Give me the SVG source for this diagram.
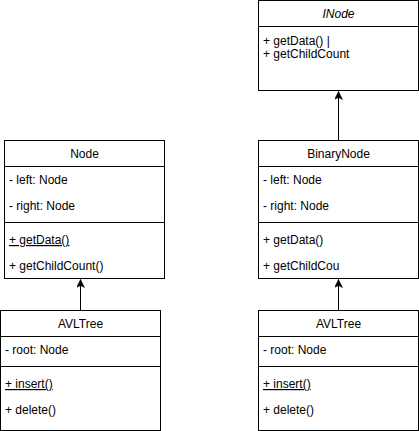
<svg xmlns="http://www.w3.org/2000/svg" width="419" height="431" viewBox="0 0 419 431">
<style>
.box{fill:#fff;stroke:#000;stroke-width:1}
.ln{stroke:#000;stroke-width:1;fill:none}
text{font-family:"Liberation Sans",Arial,sans-serif;font-size:12px;fill:#000}
.c{text-anchor:middle}
.u{text-decoration:underline}
.i{font-style:italic}
</style>
<defs>
<marker id="arr" markerWidth="10" markerHeight="10" refX="8" refY="4" orient="auto" markerUnits="userSpaceOnUse">
<path d="M0,0 L8,4 L0,8 L2,4 Z" fill="#000" stroke="#000" stroke-width="0.5"/>
</marker>
</defs>
<g id="connectors">
<line class="ln" x1="80.5" y1="310.5" x2="80.5" y2="279.5" marker-end="url(#arr)"/>
<line class="ln" x1="338.5" y1="310.5" x2="338.5" y2="279.5" marker-end="url(#arr)"/>
<line class="ln" x1="338.5" y1="140.5" x2="338.5" y2="91.5" marker-end="url(#arr)"/>
</g>
<g id="INode">
<rect class="box" x="258.5" y="0.5" width="160" height="90"/>
<line class="ln" x1="258.5" y1="26.5" x2="418.5" y2="26.5"/>
<text class="c i" x="338.5" y="18">INode</text>
<text x="263" y="45">+ getData() |</text>
<text x="263" y="58">+ getChildCount</text>
</g>
<g id="Node">
<rect class="box" x="4.5" y="140.5" width="160" height="138"/>
<line class="ln" x1="4.5" y1="166.5" x2="164.5" y2="166.5"/>
<line class="ln" x1="4.5" y1="222.5" x2="164.5" y2="222.5"/>
<text class="c" x="84.5" y="158">Node</text>
<text x="9" y="184">- left: Node</text>
<text x="9" y="210">- right: Node</text>
<text class="u" x="9" y="244">+ getData()</text>
<text x="9" y="270">+ getChildCount()</text>
</g>
<g id="BinaryNode">
<rect class="box" x="258.5" y="140.5" width="160" height="138"/>
<line class="ln" x1="258.5" y1="166.5" x2="418.5" y2="166.5"/>
<line class="ln" x1="258.5" y1="222.5" x2="418.5" y2="222.5"/>
<text class="c" x="338.5" y="158">BinaryNode</text>
<text x="263" y="184">- left: Node</text>
<text x="263" y="210">- right: Node</text>
<text x="263" y="244">+ getData()</text>
<text x="263" y="270">+ getChildCou</text>
</g>
<g id="AVLTree1">
<rect class="box" x="0.5" y="310.5" width="160" height="120"/>
<line class="ln" x1="0.5" y1="336.5" x2="160.5" y2="336.5"/>
<line class="ln" x1="0.5" y1="366.5" x2="160.5" y2="366.5"/>
<text class="c" x="80.5" y="328">AVLTree</text>
<text x="5" y="354">- root: Node</text>
<text class="u" x="5" y="388">+ insert()</text>
<text x="5" y="414">+ delete()</text>
</g>
<g id="AVLTree2">
<rect class="box" x="258.5" y="310.5" width="160" height="120"/>
<line class="ln" x1="258.5" y1="336.5" x2="418.5" y2="336.5"/>
<line class="ln" x1="258.5" y1="366.5" x2="418.5" y2="366.5"/>
<text class="c" x="338.5" y="328">AVLTree</text>
<text x="263" y="354">- root: Node</text>
<text class="u" x="263" y="388">+ insert()</text>
<text x="263" y="414">+ delete()</text>
</g>
</svg>
